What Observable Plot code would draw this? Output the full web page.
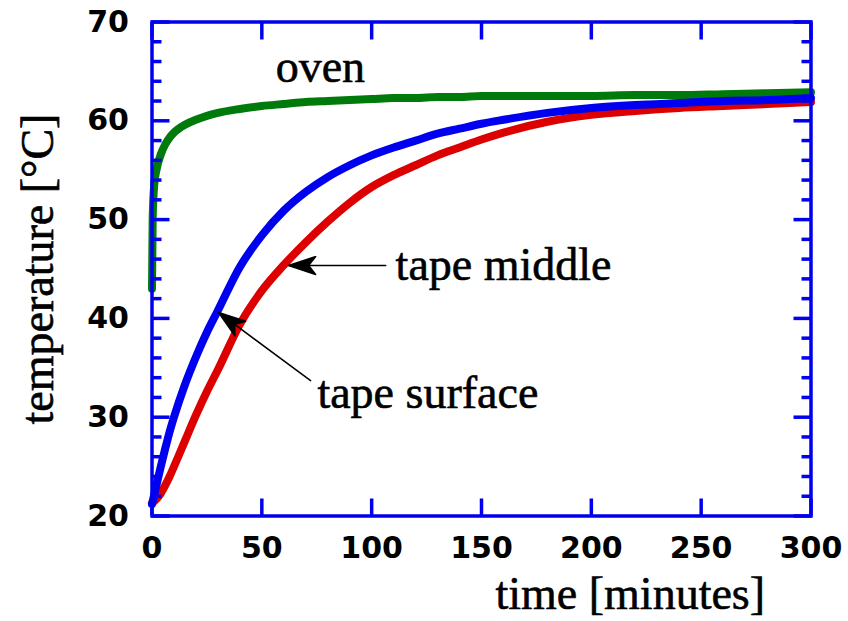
<!DOCTYPE html>
<html>
<head>
<meta charset="utf-8">
<script src="https://cdn.jsdelivr.net/npm/d3@7"></script>
<script src="https://cdn.jsdelivr.net/npm/@observablehq/plot@0.6"></script>
<style>
  html, body { margin: 0; padding: 0; background: #ffffff; }
  #chart svg { display: block; }
</style>
</head>
<body>
<div id="chart"></div>
<script>
// ---- data ----
const timeOven   = [0, 0.3, 1, 2, 4, 6, 8, 10, 15, 20, 25, 30, 40, 50, 60, 70, 80, 90, 100, 110, 120, 130, 140, 150, 160, 180, 200, 220, 240, 260, 280, 300];
const tempOven   = [43, 50, 53.5, 55, 56.6, 57.6, 58.3, 58.8, 59.6, 60.1, 60.5, 60.8, 61.2, 61.5, 61.7, 61.9, 62.0, 62.1, 62.2, 62.3, 62.3, 62.4, 62.4, 62.5, 62.5, 62.5, 62.5, 62.6, 62.6, 62.7, 62.8, 62.9];

const timeTape   = [0, 2, 4, 6, 8, 10, 15, 20, 25, 30, 40, 50, 60, 70, 80, 90, 100, 110, 120, 130, 140, 150, 160, 180, 200, 220, 240, 260, 280, 300];
const tempMiddle = [21.2, 23.1, 25.0, 26.8, 28.5, 30.0, 33.3, 36.1, 38.6, 40.8, 45.2, 48.4, 50.9, 52.8, 54.3, 55.5, 56.5, 57.3, 58.0, 58.7, 59.2, 59.7, 60.1, 60.8, 61.3, 61.6, 61.8, 62.0, 62.1, 62.3];
const tempSurface= [21.3, 21.7, 22.3, 23.1, 24.0, 25.0, 27.6, 30.2, 32.6, 34.8, 39.4, 42.8, 45.4, 47.7, 49.8, 51.7, 53.3, 54.5, 55.5, 56.5, 57.3, 58.1, 58.8, 59.9, 60.6, 61.0, 61.3, 61.5, 61.7, 61.9];

const xTicks = [0, 50, 100, 150, 200, 250, 300];
const yTicks = [20, 30, 40, 50, 60, 70];
const yMinorTicks = [22, 24, 26, 28, 32, 34, 36, 38, 42, 44, 46, 48, 52, 54, 56, 58, 62, 64, 66, 68];

const labelOven = "oven";
const labelMiddle = "tape middle";
const labelSurface = "tape surface";
const labelX = "time [minutes]";
const labelY = "temperature [°C]";

// ---- build tables ----
const oven = timeOven.map((t, i) => ({t, T: tempOven[i]}));
const middle = timeTape.map((t, i) => ({t, T: tempMiddle[i]}));
const surface = timeTape.map((t, i) => ({t, T: tempSurface[i]}));

const FRAME = "#0000ee";
const SERIF = "'Liberation Serif', 'Times New Roman', serif";
const SANS = "'DejaVu Sans', Verdana, sans-serif";

// filled, notched arrowhead marker
function arrowHead(color) {
  const m = d3.create("svg:marker")
    .attr("viewBox", "-28 -10 29 20")
    .attr("markerWidth", 29)
    .attr("markerHeight", 20)
    .attr("markerUnits", "userSpaceOnUse")
    .attr("refX", 0)
    .attr("refY", 0)
    .attr("orient", "auto");
  m.append("path")
    .attr("d", "M0,0L-27,-9L-20,0L-27,9Z")
    .attr("fill", "#000");
  return m.node();
}

const serifText = {fontSize: 46, fontFamily: SERIF, fill: "#000", stroke: "#000", strokeWidth: 0.6};

const chart = Plot.plot({
  width: 848,
  height: 621,
  marginLeft: 151.5,
  marginRight: 37.5,
  marginTop: 21.5,
  marginBottom: 105.5,
  x: {domain: [0, 300]},
  y: {domain: [20, 70]},
  style: {background: "#ffffff", overflow: "visible"},
  marks: [
    // data curves
    Plot.line(oven, {x: "t", y: "T", stroke: "#007a0a", strokeWidth: 8, curve: "monotone-x"}),
    Plot.line(surface, {x: "t", y: "T", stroke: "#dd0000", strokeWidth: 8, curve: "monotone-x"}),
    Plot.line(middle, {x: "t", y: "T", stroke: "#0000f0", strokeWidth: 8, curve: "monotone-x"}),

    // frame and inward ticks
    Plot.frame({stroke: FRAME, strokeWidth: 3.5}),
    Plot.axisX(xTicks, {anchor: "bottom", tickSize: -17, fill: "none", stroke: FRAME, strokeWidth: 3.5, label: null}),
    Plot.axisX(xTicks, {anchor: "top", tickSize: -17, fill: "none", stroke: FRAME, strokeWidth: 3.5, label: null}),
    Plot.axisY(yTicks, {anchor: "left", tickSize: -18, fill: "none", stroke: FRAME, strokeWidth: 3.5, label: null}),
    Plot.axisY(yTicks, {anchor: "right", tickSize: -18, fill: "none", stroke: FRAME, strokeWidth: 3.5, label: null}),
    Plot.axisY(yMinorTicks, {anchor: "left", tickSize: -10, fill: "none", stroke: FRAME, strokeWidth: 3.5, label: null}),
    Plot.axisY(yMinorTicks, {anchor: "right", tickSize: -10, fill: "none", stroke: FRAME, strokeWidth: 3.5, label: null}),

    // tick labels
    Plot.axisX(xTicks, {anchor: "bottom", tickSize: 0, tickPadding: 21, label: null,
      fontSize: 30, fontWeight: "bold", fontFamily: SANS, fill: "#000"}),
    Plot.axisY(yTicks, {anchor: "left", tickSize: 0, tickPadding: 23, label: null,
      fontSize: 30, fontWeight: "bold", fontFamily: SANS, fill: "#000"}),

    // axis titles
    Plot.text([labelX], {text: d => d, frameAnchor: "bottom", textAnchor: "start", lineAnchor: "bottom",
      dx: 14, dy: 92.5, ...serifText}),
    Plot.text([labelY], {text: d => d, frameAnchor: "left", textAnchor: "middle", lineAnchor: "bottom",
      rotate: -90, dx: -99, dy: 0, ...serifText}),

    // annotations
    Plot.text([labelOven], {text: d => d, x: 56.3, y: 63.9, textAnchor: "start", lineAnchor: "bottom", ...serifText}),
    Plot.text([labelMiddle], {text: d => d, x: 110.9, y: 43.84, textAnchor: "start", lineAnchor: "bottom", ...serifText}),
    Plot.text([labelSurface], {text: d => d, x: 75.3, y: 30.98, textAnchor: "start", lineAnchor: "bottom", ...serifText}),

    // arrows
    Plot.line([[106.4, 45.35], [62.2, 45.35]], {stroke: "#000", strokeWidth: 1.5, markerEnd: arrowHead}),
    Plot.line([[72.2, 33.7], [30.3, 40.6]], {stroke: "#000", strokeWidth: 1.5, markerEnd: arrowHead})
  ]
});

document.getElementById("chart").appendChild(chart);
</script>
</body>
</html>
